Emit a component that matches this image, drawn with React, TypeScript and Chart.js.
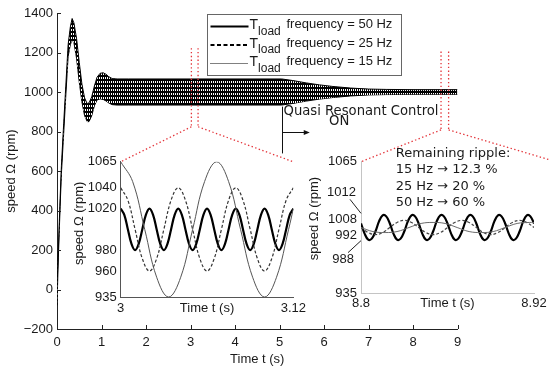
import React, { useEffect, useRef } from 'react';
import { Chart, registerables } from 'chart.js';

Chart.register(...registerables);
Chart.defaults.font.family = '"Liberation Sans", Arial, sans-serif';

// ---------- main response (envelope of the speed ripple) ----------
const mainTime = [0, 0.03, 0.07, 0.1, 0.15, 0.2, 0.25, 0.3, 0.34, 0.38, 0.44, 0.5, 0.56, 0.62, 0.68, 0.72, 0.78, 0.84, 0.9, 0.97, 1.04, 1.1, 1.16, 1.24, 1.35, 1.6, 2, 3, 4, 5.05, 5.3, 5.6, 5.9, 6.2, 6.6, 7.0, 7.4, 8, 9];
const mainUpper = [10, 200, 460, 630, 840, 1040, 1240, 1330, 1372, 1350, 1270, 1150, 1040, 970, 940, 945, 975, 1030, 1075, 1095, 1097, 1090, 1078, 1068, 1066, 1066, 1066, 1066, 1066, 1066, 1058, 1046, 1036, 1028, 1020, 1015, 1013, 1012, 1012];
const mainLower = [-80, 160, 420, 590, 790, 990, 1180, 1240, 1265, 1250, 1170, 1050, 950, 880, 850, 850, 880, 930, 960, 965, 962, 955, 945, 936, 934, 934, 934, 934, 934, 934, 942, 954, 964, 972, 980, 985, 987, 988, 988];
const mainXTicks = [0, 1, 2, 3, 4, 5, 6, 7, 8, 9];
const mainYTicks = [-200, 0, 200, 400, 600, 800, 1000, 1200, 1400];

// zoom windows marked on the main plot (time span, speed span)
const zoomWinT = [[3.02, 3.17], [8.63, 8.8]];
const zoomWinY = [[824, 1222], [808, 1205]];

// annotation "Quasi Resonant Control ON"
const qrcLineT = 5.05;
const qrcLineY = [689, 926];
const qrcArrowY = 799;
const qrcArrowEndT = 5.68;
const qrcText1 = 'Quasi Resonant Control';
const qrcText2 = 'ON';

// legend
const legendSymbol = 'T';
const legendSub = 'load';
const legendLabels = ['frequency = 50 Hz', 'frequency = 25 Hz', 'frequency = 15 Hz'];

// ---------- zoom 1 : t = 3 .. 3.12 s ----------
const z1T50 = [3, 3.0025, 3.005, 3.0075, 3.01, 3.0125, 3.015, 3.0175, 3.02, 3.0225, 3.025, 3.0275, 3.03, 3.0325, 3.035, 3.0375, 3.04, 3.0425, 3.045, 3.0475, 3.05, 3.0525, 3.055, 3.0575, 3.06, 3.0625, 3.065, 3.0675, 3.07, 3.0725, 3.075, 3.0775, 3.08, 3.0825, 3.085, 3.0875, 3.09, 3.0925, 3.095, 3.0975, 3.1, 3.1025, 3.105, 3.1075, 3.11, 3.1125, 3.115, 3.1175, 3.12];
const z1V50 = [1020, 1014, 1000, 986, 980, 986, 1000, 1014, 1020, 1014, 1000, 986, 980, 986, 1000, 1014, 1020, 1014, 1000, 986, 980, 986, 1000, 1014, 1020, 1014, 1000, 986, 980, 986, 1000, 1014, 1020, 1014, 1000, 986, 980, 986, 1000, 1014, 1020, 1014, 1000, 986, 980, 986, 1000, 1014, 1020];
const z1T25 = [3, 3.005, 3.01, 3.015, 3.02, 3.025, 3.03, 3.035, 3.04, 3.045, 3.05, 3.055, 3.06, 3.065, 3.07, 3.075, 3.08, 3.085, 3.09, 3.095, 3.1, 3.105, 3.11, 3.115, 3.12];
const z1V25 = [1040, 1028, 1000, 972, 960, 972, 1000, 1028, 1040, 1028, 1000, 972, 960, 972, 1000, 1028, 1040, 1028, 1000, 972, 960, 972, 1000, 1028, 1040];
const z1T15 = [3, 3.0083, 3.0167, 3.025, 3.0333, 3.0417, 3.05, 3.0583, 3.0667, 3.075, 3.0833, 3.0917, 3.1, 3.1083, 3.1167, 3.12];
const z1V15 = [1065, 1046, 1000, 954, 935, 954, 1000, 1046, 1065, 1046, 1000, 954, 935, 954, 1000, 1020];
const z1XTicks = [3, 3.06, 3.12];
const z1XLabels = ['3', 'Time t (s)', '3.12'];
const z1YTicks = [935, 960, 980, 1020, 1040, 1065];

// ---------- zoom 2 : t = 8.8 .. 8.92 s ----------
const z2T50 = [8.8, 8.8025, 8.805, 8.8075, 8.81, 8.8125, 8.815, 8.8175, 8.82, 8.8225, 8.825, 8.8275, 8.83, 8.8325, 8.835, 8.8375, 8.84, 8.8425, 8.845, 8.8475, 8.85, 8.8525, 8.855, 8.8575, 8.86, 8.8625, 8.865, 8.8675, 8.87, 8.8725, 8.875, 8.8775, 8.88, 8.8825, 8.885, 8.8875, 8.89, 8.8925, 8.895, 8.8975, 8.9, 8.9025, 8.905, 8.9075, 8.91, 8.9125, 8.915, 8.9175, 8.92];
const z2V50 = [1004, 994, 988, 989, 996, 1006, 1012, 1011, 1004, 994, 988, 989, 996, 1006, 1012, 1011, 1004, 994, 988, 989, 996, 1006, 1012, 1011, 1004, 994, 988, 989, 996, 1006, 1012, 1011, 1004, 994, 988, 989, 996, 1006, 1012, 1011, 1004, 994, 988, 989, 996, 1006, 1012, 1011, 1004];
const z2T25 = [8.8, 8.805, 8.81, 8.815, 8.82, 8.825, 8.83, 8.835, 8.84, 8.845, 8.85, 8.855, 8.86, 8.865, 8.87, 8.875, 8.88, 8.885, 8.89, 8.895, 8.9, 8.905, 8.91, 8.915, 8.92];
const z2V25 = [1000, 995, 993, 995, 1000, 1005, 1007, 1005, 1000, 995, 993, 995, 1000, 1005, 1007, 1005, 1000, 995, 993, 995, 1000, 1005, 1007, 1005, 1000];
const z2T15 = [8.8, 8.8083, 8.8167, 8.825, 8.8333, 8.8417, 8.85, 8.8583, 8.8667, 8.875, 8.8833, 8.8917, 8.9, 8.9083, 8.9167, 8.92];
const z2V15 = [1000, 996, 995, 996, 1000, 1004, 1005, 1004, 1000, 996, 995, 996, 1000, 1004, 1005, 1005];
const z2XTicks = [8.8, 8.86, 8.92];
const z2XLabels = ['8.8', 'Time t (s)', '8.92'];
const z2YTicks = [935, 992, 1008, 1065];
const z2LeaderTicks = [1012, 988];
const rippleLines = ['Remaining ripple:', '15 Hz \u2192 12.3 %', '25 Hz \u2192 20 %', '50 Hz \u2192 60 %'];
const insetYTitle = 'speed \u03A9 (rpm)';

// ---------- layout ----------
const W = 550;
const H = 371;
const INSET1 = { left: 68, top: 150, w: 242, h: 168 };
const INSET2 = { left: 300, top: 135, w: 250, h: 177 };
const TXT = '#1a1a1a';
const RED = 'rgb(228,52,58)';
const ANNOT_FONT = '"DejaVu Sans", Verdana, sans-serif';
const FONT13 = { size: 13, family: '"Liberation Sans", Arial, sans-serif' };

const pts = (t: number[], v: number[]) => t.map((x, i) => ({ x, y: v[i] }));

function makeHatch(): CanvasPattern | string {
  const c = document.createElement('canvas');
  c.width = 2;
  c.height = 4;
  const g = c.getContext('2d');
  if (!g) return '#000';
  g.fillStyle = '#000';
  g.fillRect(0, 0, 2, 4);
  g.fillStyle = '#fff';
  g.fillRect(1, 1, 1, 2);
  return g.createPattern(c, 'repeat') || '#000';
}

function insetDatasets(t50: number[], v50: number[], t25: number[], v25: number[], t15: number[], v15: number[], light: boolean) {
  return [
    { data: pts(t15, v15), borderColor: light ? '#6a6a6a' : '#555', borderWidth: 1, pointRadius: 0, tension: 0.4, fill: false },
    { data: pts(t25, v25), borderColor: light ? '#444' : '#333', borderWidth: 1.2, borderDash: [3, 2], pointRadius: 0, tension: 0.4, fill: false },
    { data: pts(t50, v50), borderColor: '#000', borderWidth: 2.2, pointRadius: 0, tension: 0.4, fill: false },
  ];
}

// y-axis title of an inset, drawn at the left edge of its y scale
function insetTitlePlugin(dy: number) {
  return {
    id: 'insetTitle',
    afterDraw(chart: any) {
      const { ctx, chartArea: a, scales } = chart;
      const ys = scales.y;
      ctx.save();
      ctx.fillStyle = TXT;
      ctx.font = '13px "Liberation Sans", Arial, sans-serif';
      ctx.textAlign = 'center';
      ctx.textBaseline = 'middle';
      ctx.translate(ys.left + 11.8, (a.top + a.bottom) / 2 + dy);
      ctx.rotate(-Math.PI / 2);
      ctx.fillText(insetYTitle, 0, 0);
      ctx.restore();
    },
  };
}

function insetOptions(opts: {
  xMin: number; xMax: number; yMin: number; yMax: number;
  xTicks: number[]; xLabels: string[]; yTicks: number[];
  axisColor: string; pad: { left: number; top: number; right: number };
  yWidth: number; xHeight: number; xPad: number;
}) {
  return {
    responsive: false,
    animation: false as const,
    layout: { padding: { left: opts.pad.left, top: opts.pad.top, right: opts.pad.right, bottom: 0 } },
    plugins: { legend: { display: false }, tooltip: { enabled: false } },
    scales: {
      x: {
        type: 'linear' as const,
        min: opts.xMin,
        max: opts.xMax,
        afterBuildTicks: (s: any) => { s.ticks = opts.xTicks.map((v) => ({ value: v })); },
        afterFit: (s: any) => { s.height = opts.xHeight; },
        ticks: {
          autoSkip: false, maxRotation: 0, padding: opts.xPad, color: TXT, font: FONT13,
          callback: (_v: any, i: number) => opts.xLabels[i],
        },
        grid: { display: false, drawTicks: false },
        border: { display: true, color: opts.axisColor, width: 1 },
      },
      y: {
        type: 'linear' as const,
        min: opts.yMin,
        max: opts.yMax,
        afterBuildTicks: (s: any) => { s.ticks = opts.yTicks.map((v) => ({ value: v })); },
        afterFit: (s: any) => { s.width = opts.yWidth; },
        ticks: { autoSkip: false, padding: 4, color: TXT, font: FONT13, callback: (v: any) => String(v) },
        grid: { display: false, drawTicks: false },
        border: { display: true, color: opts.axisColor, width: 1 },
      },
    },
  };
}

export default function App() {
  const mainRef = useRef<HTMLCanvasElement>(null);
  const in1Ref = useRef<HTMLCanvasElement>(null);
  const in2Ref = useRef<HTMLCanvasElement>(null);

  useEffect(() => {
    if (!mainRef.current || !in1Ref.current || !in2Ref.current) return;

    // ----- inset 1 -----
    const inset1 = new Chart(in1Ref.current, {
      type: 'line',
      data: { datasets: insetDatasets(z1T50, z1V50, z1T25, z1V25, z1T15, z1V15, false) as any },
      options: insetOptions({
        xMin: 3, xMax: 3.12, yMin: 935, yMax: 1065,
        xTicks: z1XTicks, xLabels: z1XLabels, yTicks: z1YTicks,
        axisColor: '#555', pad: { left: 0, top: 11.7, right: 16 },
        yWidth: 52.7, xHeight: 21, xPad: 4,
      }) as any,
      plugins: [insetTitlePlugin(-6)],
    });

    // ----- inset 2 -----
    const inset2Deco = {
      id: 'inset2Deco',
      afterDraw(chart: any) {
        const { ctx, chartArea: a, scales } = chart;
        const y = scales.y;
        ctx.save();
        ctx.fillStyle = TXT;
        ctx.strokeStyle = '#222';
        ctx.lineWidth = 1;
        ctx.font = '13px "Liberation Sans", Arial, sans-serif';
        ctx.textAlign = 'right';
        ctx.textBaseline = 'middle';
        // leader labels
        const p1 = y.getPixelForValue(z2LeaderTicks[0]);
        ctx.fillText(String(z2LeaderTicks[0]), a.left - 5, p1 - 23);
        ctx.beginPath();
        ctx.moveTo(a.left - 11, p1 - 16);
        ctx.lineTo(a.left, p1 - 2);
        ctx.stroke();
        const p2 = y.getPixelForValue(z2LeaderTicks[1]);
        ctx.fillText(String(z2LeaderTicks[1]), a.left - 7, p2 + 20);
        ctx.beginPath();
        ctx.moveTo(a.left - 13, p2 + 13);
        ctx.lineTo(a.left, p2 + 1);
        ctx.stroke();
        // ripple text
        ctx.font = '13px ' + ANNOT_FONT;
        ctx.textAlign = 'left';
        const rows = [-7.7, 8.3, 25, 41];
        rippleLines.forEach((s, i) => ctx.fillText(s, a.left + 34.7, a.top + rows[i]));
        ctx.restore();
      },
    };
    const inset2 = new Chart(in2Ref.current, {
      type: 'line',
      data: { datasets: insetDatasets(z2T50, z2V50, z2T25, z2V25, z2T15, z2V15, true) as any },
      options: insetOptions({
        xMin: 8.8, xMax: 8.92, yMin: 935, yMax: 1065,
        xTicks: z2XTicks, xLabels: z2XLabels, yTicks: z2YTicks,
        axisColor: '#c4c4c4', pad: { left: 3, top: 26.7, right: 16 },
        yWidth: 58, xHeight: 18.7, xPad: 2,
      }) as any,
      plugins: [inset2Deco, insetTitlePlugin(-9)],
    });

    // ----- main chart -----
    const mainDeco = {
      id: 'mainDeco',
      afterDraw(chart: any) {
        const { ctx, chartArea: a, scales } = chart;
        const x = scales.x;
        const y = scales.y;
        ctx.save();
        // inward ticks
        ctx.strokeStyle = '#222';
        ctx.lineWidth = 1;
        ctx.beginPath();
        mainXTicks.forEach((v) => {
          const px = Math.round(x.getPixelForValue(v)) + 0.5;
          ctx.moveTo(px, a.bottom);
          ctx.lineTo(px, a.bottom - 4);
        });
        mainYTicks.forEach((v) => {
          const py = Math.round(y.getPixelForValue(v)) + 0.5;
          ctx.moveTo(a.left, py);
          ctx.lineTo(a.left + 4, py);
        });
        ctx.stroke();

        // zoom window guides
        ctx.strokeStyle = RED;
        ctx.lineWidth = 1.3;
        ctx.setLineDash([1.4, 2.4]);
        const insets = [
          { ch: inset1, L: INSET1 },
          { ch: inset2, L: INSET2 },
        ];
        zoomWinT.forEach((tw, k) => {
          const xa = x.getPixelForValue(tw[0]);
          const xb = x.getPixelForValue(tw[1]);
          const yb = y.getPixelForValue(zoomWinY[k][0]);
          const yt = y.getPixelForValue(zoomWinY[k][1]);
          const { ch, L } = insets[k];
          const ia = ch.chartArea;
          const tlx = L.left + ia.left;
          const tly = L.top + ia.top;
          const trx = L.left + ia.right + (k === 1 ? 22 : 0);
          ctx.beginPath();
          ctx.moveTo(xa, yt); ctx.lineTo(xa, yb);
          ctx.moveTo(xb, yt); ctx.lineTo(xb, yb);
          ctx.moveTo(xa, yb); ctx.lineTo(tlx, tly);
          ctx.moveTo(xb, yb); ctx.lineTo(trx, tly);
          ctx.stroke();
        });
        ctx.setLineDash([]);

        // QRC annotation
        ctx.strokeStyle = '#111';
        ctx.fillStyle = '#111';
        ctx.lineWidth = 1;
        const qx = Math.round(x.getPixelForValue(qrcLineT)) + 0.5;
        ctx.beginPath();
        ctx.moveTo(qx, y.getPixelForValue(qrcLineY[1]));
        ctx.lineTo(qx, y.getPixelForValue(qrcLineY[0]));
        const ay = Math.round(y.getPixelForValue(qrcArrowY)) + 0.5;
        const ax = x.getPixelForValue(qrcArrowEndT);
        ctx.moveTo(qx, ay);
        ctx.lineTo(ax - 4, ay);
        ctx.stroke();
        ctx.beginPath();
        ctx.moveTo(ax, ay);
        ctx.lineTo(ax - 6, ay - 2.5);
        ctx.lineTo(ax - 6, ay + 2.5);
        ctx.closePath();
        ctx.fill();
        ctx.font = '13.2px ' + ANNOT_FONT;
        ctx.fillStyle = TXT;
        ctx.textBaseline = 'middle';
        ctx.textAlign = 'left';
        ctx.fillText(qrcText1, x.getPixelForValue(5.09), y.getPixelForValue(900));
        ctx.textAlign = 'center';
        ctx.fillText(qrcText2, x.getPixelForValue(6.34), y.getPixelForValue(850));

        // legend box
        const bx = 207.5, by = 14.5, bw = 194, bh = 61;
        ctx.fillStyle = '#fff';
        ctx.fillRect(bx, by, bw, bh);
        ctx.strokeStyle = '#666';
        ctx.lineWidth = 1;
        ctx.strokeRect(bx, by, bw, bh);
        const rowY = [25.5, 44, 62.5];
        const styles = [
          { w: 2, dash: [] as number[] },
          { w: 2, dash: [4, 2.5] },
          { w: 1, dash: [1, 1] },
        ];
        legendLabels.forEach((lab, i) => {
          const ry = rowY[i];
          ctx.strokeStyle = '#000';
          ctx.lineWidth = styles[i].w;
          ctx.setLineDash(styles[i].dash);
          ctx.beginPath();
          ctx.moveTo(210.5, ry + 1);
          ctx.lineTo(248.5, ry + 1);
          ctx.stroke();
          ctx.setLineDash([]);
          ctx.fillStyle = TXT;
          ctx.textAlign = 'left';
          ctx.textBaseline = 'middle';
          ctx.font = '14px "Liberation Sans", Arial, sans-serif';
          ctx.fillText(legendSymbol, 249.5, ry);
          const tw = ctx.measureText(legendSymbol).width;
          ctx.font = '12px "Liberation Sans", Arial, sans-serif';
          ctx.fillText(legendSub, 249.5 + tw, ry + 6);
          ctx.font = '13px "Liberation Sans", Arial, sans-serif';
          ctx.fillText(lab, 286.5, ry - 1);
        });
        ctx.restore();
      },
    };

    const main = new Chart(mainRef.current, {
      type: 'line',
      data: {
        datasets: [
          { data: pts(mainTime, mainUpper), borderColor: '#000', borderWidth: 1, pointRadius: 0, tension: 0, fill: '+1', backgroundColor: makeHatch() },
          { data: pts(mainTime, mainLower), borderColor: '#000', borderWidth: 1, pointRadius: 0, tension: 0, fill: false },
        ] as any,
      },
      options: {
        responsive: false,
        animation: false,
        layout: { padding: { left: 0, top: 13, right: 92.5, bottom: 0 } },
        plugins: { legend: { display: false }, tooltip: { enabled: false } },
        scales: {
          x: {
            type: 'linear',
            min: 0,
            max: 9,
            afterBuildTicks: (s: any) => { s.ticks = mainXTicks.map((v) => ({ value: v })); },
            afterFit: (s: any) => { s.height = 42; },
            ticks: { autoSkip: false, maxRotation: 0, padding: 6, color: TXT, font: FONT13, callback: (v: any) => String(v) },
            grid: { display: false, drawTicks: false },
            border: { display: true, color: '#222', width: 1 },
            title: { display: true, text: 'Time t (s)', color: TXT, font: FONT13, padding: { top: 4, bottom: 4 } },
          },
          y: {
            type: 'linear',
            min: -200,
            max: 1400,
            afterBuildTicks: (s: any) => { s.ticks = mainYTicks.map((v) => ({ value: v })); },
            afterFit: (s: any) => { s.width = 57; },
            ticks: {
              autoSkip: false, padding: 4, color: TXT, font: FONT13,
              callback: (v: any) => (Number(v) < 0 ? '\u2212' + Math.abs(Number(v)) : String(v)),
            },
            grid: { display: false, drawTicks: false },
            border: { display: true, color: '#222', width: 1 },
            title: { display: true, text: 'speed \u03A9 (rpm)', color: TXT, font: FONT13, padding: { top: 4, bottom: 4 } },
          },
        },
      } as any,
      plugins: [mainDeco],
    });

    return () => {
      main.destroy();
      inset1.destroy();
      inset2.destroy();
    };
  }, []);

  const abs = (l: number, t: number): React.CSSProperties => ({ position: 'absolute', left: l, top: t });
  return (
    <div style={{ position: 'fixed', left: 0, top: 0, width: W, height: H, background: '#fff', overflow: 'hidden' }}>
      <canvas ref={mainRef} width={W} height={H} style={{ ...abs(0, 0), width: W, height: H }} />
      <canvas ref={in1Ref} width={INSET1.w} height={INSET1.h} style={{ ...abs(INSET1.left, INSET1.top), width: INSET1.w, height: INSET1.h }} />
      <canvas ref={in2Ref} width={INSET2.w} height={INSET2.h} style={{ ...abs(INSET2.left, INSET2.top), width: INSET2.w, height: INSET2.h }} />
    </div>
  );
}
